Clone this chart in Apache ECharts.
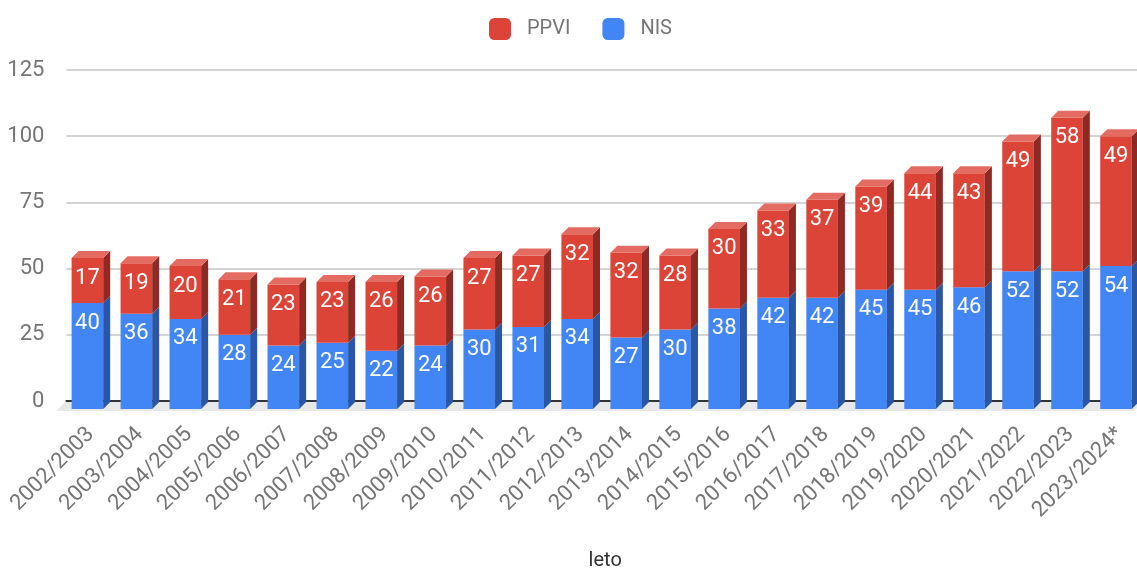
<!DOCTYPE html>
<html><head><meta charset="utf-8">
<script src="https://cdn.jsdelivr.net/npm/echarts@6/dist/echarts.min.js"></script>
<style>html,body{margin:0;padding:0;background:#fff}#c{width:1137px;height:569px}</style>
</head><body><div id="c"></div>
<script>
const categories = ['2002/2003','2003/2004','2004/2005','2005/2006','2006/2007','2007/2008','2008/2009','2009/2010','2010/2011','2011/2012','2012/2013','2013/2014','2014/2015','2015/2016','2016/2017','2017/2018','2018/2019','2019/2020','2020/2021','2021/2022','2022/2023','2023/2024*'];
const nis  = [40,36,34,28,24,25,22,24,30,31,34,27,30,38,42,42,45,45,46,52,52,54];
const ppvi = [17,19,20,21,23,23,26,26,27,27,32,32,28,30,33,37,39,44,43,49,58,49];
const yTicks = [0,25,50,75,100,125];

const FONT = 'Roboto';
const FW = 31.6, D = 7, OFF = 8;

function makeRender(front, side, top, drawTop) {
  return function (params, api) {
    const i = api.value(0), v0 = api.value(1), v1 = api.value(2), lab = api.value(3);
    const b = api.coord([i, v0]);
    const t = api.coord([i, v1]);
    const x0 = b[0] - (FW + D) / 2;
    const yb = b[1] + OFF, yt = t[1] + OFF;
    const children = [
      {type:'rect', shape:{x:x0, y:yt, width:FW, height:yb-yt}, style:{fill:front}},
      {type:'polygon', shape:{points:[[x0+FW,yt],[x0+FW+D,yt-D],[x0+FW+D,yb-D],[x0+FW,yb]]}, style:{fill:side}}
    ];
    if (drawTop) {
      children.push({type:'polygon', shape:{points:[[x0,yt],[x0+D,yt-D],[x0+FW+D,yt-D],[x0+FW,yt]]}, style:{fill:top}});
    }
    children.push({type:'text', style:{x:x0+FW/2, y:yt+20, text:String(lab), fill:'#fff', font:'22px ' + FONT, textAlign:'center', textVerticalAlign:'middle'}});
    return {type:'group', children};
  };
}

const nisData = nis.map((v,i)=>[i,0,v,v]);
const ppviData = ppvi.map((v,i)=>[i,nis[i],nis[i]+v,v]);

const option = {
  animation:false,
  textStyle:{fontFamily:FONT},
  legend:{
    data:[{name:'PPVI', icon:'roundRect'},{name:'NIS', icon:'roundRect'}],
    left:484, top:13, itemWidth:22, itemHeight:22, itemGap:32,
    textStyle:{fontSize:20, color:'#757575', fontFamily:FONT, padding:[0,0,0,11]}
  },
  grid:{left:66.4, top:70, width:1077.6, bottom:168, containLabel:false, outerBoundsMode:'none'},
  xAxis:{
    type:'category', data:categories, z:2,
    axisLine:{show:true, onZero:true, lineStyle:{color:'#333', width:2}},
    axisTick:{show:false},
    axisLabel:{rotate:45, fontSize:22, color:'#757575', margin:30, interval:0, fontFamily:FONT},
    name:'leto', nameLocation:'middle', nameGap:150,
    nameTextStyle:{fontSize:20, color:'#333', fontFamily:FONT}
  },
  yAxis:{
    type:'value', min:yTicks[0], max:yTicks[yTicks.length-1], interval:25, z:0,
    axisLine:{show:false}, axisTick:{show:false},
    axisLabel:{fontSize:22, color:'#757575', margin:22, fontFamily:FONT},
    splitLine:{lineStyle:{color:'#d4d4d4', width:2}}
  },
  series:[
    {
      name:'floor', type:'custom', z:1, silent:true, data:[[0]],
      renderItem:function(params, api){
        const cs = params.coordSys;
        const y = api.coord([0,0])[1];
        return {type:'polygon', shape:{points:[[cs.x,y],[cs.x+cs.width,y],[cs.x+cs.width-10,y+10],[cs.x-10,y+10]]}, style:{fill:'#e8e8e8'}};
      }
    },
    {
      name:'NIS', type:'custom', z:3, itemStyle:{color:'#4285f4'},
      encode:{x:0, y:[1,2]}, data:nisData,
      renderItem:makeRender('#4285f4','#2a56a6','#6d9ff6', false)
    },
    {
      name:'PPVI', type:'custom', z:3, itemStyle:{color:'#db4437'},
      encode:{x:0, y:[1,2]}, data:ppviData,
      renderItem:makeRender('#db4437','#8e2a23','#e36b61', true)
    }
  ]
};
const chart = echarts.init(document.getElementById('c'));
chart.setOption(option);
</script></body></html>
